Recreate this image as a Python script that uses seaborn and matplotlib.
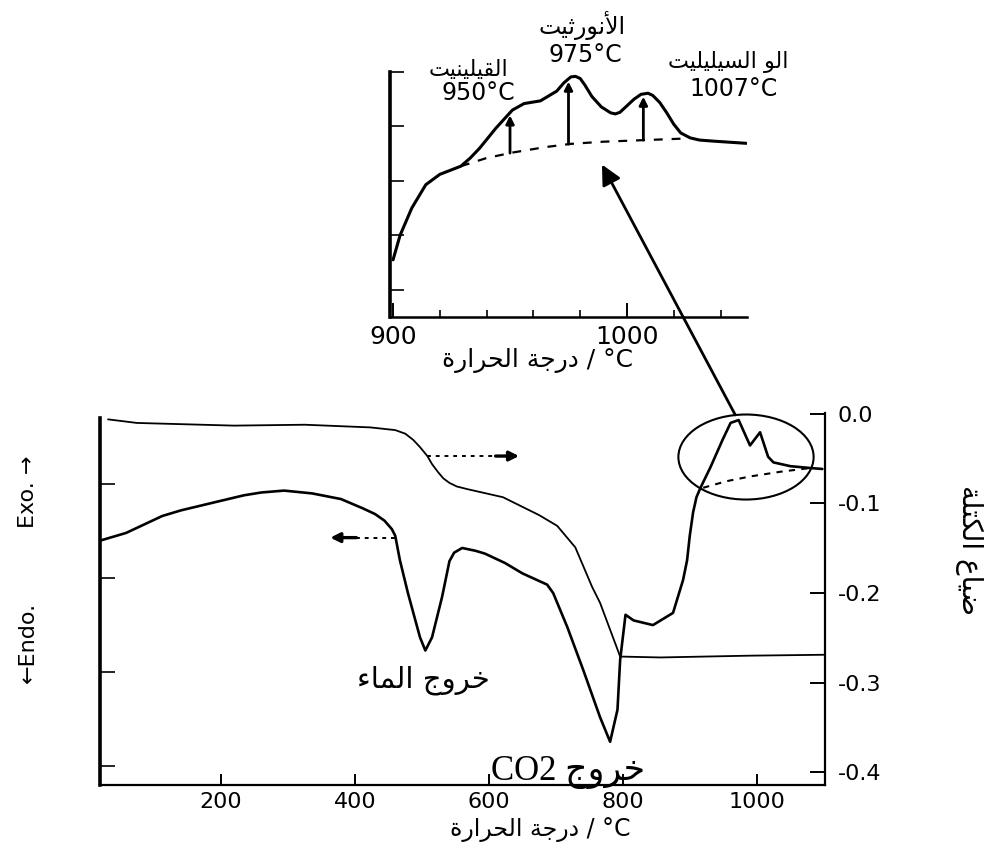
import matplotlib
matplotlib.use("Agg")
import numpy as np
import matplotlib.pyplot as plt
from matplotlib.patches import Ellipse, ConnectionPatch
import seaborn as sns

# ---------------- data ----------------
# DTA signal of the clay (left axis, arbitrary units)
dta_temp = [20, 58, 112, 140, 181, 234, 260, 294, 336, 379, 412, 430, 444, 455, 460, 467,
            479, 497, 505, 515, 530, 541, 548, 560, 580, 594, 624, 650, 687, 696, 717, 741,
            766, 781, 792, 796, 804, 816, 845, 875, 890, 896, 900, 905, 910, 916, 931, 949,
            961, 973, 990, 1005, 1017, 1025, 1050, 1080, 1098]
dta_signal = [2.40, 2.48, 2.66, 2.72, 2.79, 2.88, 2.91, 2.93, 2.90, 2.84, 2.74, 2.68, 2.61,
              2.52, 2.45, 2.19, 1.84, 1.37, 1.23, 1.37, 1.80, 2.18, 2.27, 2.32, 2.29, 2.26,
              2.16, 2.05, 1.93, 1.84, 1.48, 1.02, 0.52, 0.26, 0.60, 1.13, 1.61, 1.55, 1.50,
              1.63, 1.98, 2.19, 2.45, 2.70, 2.86, 2.96, 3.18, 3.47, 3.65, 3.68, 3.41, 3.55,
              3.29, 3.23, 3.19, 3.17, 3.16]

# TG mass change (right axis)
tg_temp = [31, 74, 219, 325, 423, 460, 475, 487, 497, 508, 515, 524, 532, 541, 552, 568,
           621, 675, 702, 729, 754, 766, 784, 796, 856, 990, 1100]
tg_mass = [-0.006, -0.010, -0.013, -0.012, -0.015, -0.018, -0.022, -0.029, -0.037, -0.047,
           -0.056, -0.065, -0.072, -0.077, -0.081, -0.084, -0.093, -0.113, -0.125, -0.149,
           -0.193, -0.211, -0.247, -0.271, -0.272, -0.270, -0.269]

# baseline under the high temperature exotherm (main plot)
main_base_temp = [920, 955, 990, 1035, 1080]
main_base_signal = [2.96, 3.03, 3.08, 3.13, 3.17]

# enlarged 900-1050 C region
inset_temp = [900, 903, 908, 914, 920, 929, 933, 937, 944, 951, 956, 963, 970, 973, 976,
              978, 980, 982, 985, 989, 993, 995, 997, 1003, 1006, 1009, 1011, 1014, 1017,
              1020, 1023, 1027, 1031, 1037, 1051]
inset_dta = [1.55, 2.00, 2.50, 2.93, 3.12, 3.27, 3.42, 3.60, 3.97, 4.30, 4.42, 4.47, 4.65,
             4.80, 4.91, 4.92, 4.88, 4.76, 4.55, 4.36, 4.25, 4.23, 4.26, 4.50, 4.59, 4.61,
             4.57, 4.44, 4.25, 4.04, 3.88, 3.79, 3.75, 3.73, 3.69]
inset_base_temp = [929, 940, 951, 965, 976, 990, 1008, 1026]
inset_base_dta = [3.27, 3.42, 3.52, 3.62, 3.68, 3.72, 3.75, 3.78]

peak_temps = [950, 975, 1007]
peak_names = ["القيلينيت", "الأنورثيت", "الو السيليليت"]

main_xticks = [200, 400, 600, 800, 1000]
mass_ticks = [0.0, -0.1, -0.2, -0.3, -0.4]
mass_ticklabels = ["0.0", "-0.1", "-0.2", "-0.3", "-0.4"]
dta_ticks = [0, 1, 2, 3]
inset_xticks = [900, 1000]
inset_yticks = [1, 2, 3, 4, 5]

# arrows telling which curve belongs to which axis
dta_arrow_temp = [363, 402, 460]
dta_arrow_level = 2.43
tg_arrow_temp = [508, 610, 645]
tg_arrow_level = -0.047


# ---------------- Arabic shaping helpers ----------------
_FORMS = {
    'ء': (0xFE80, 1), 'آ': (0xFE81, 2), 'أ': (0xFE83, 2), 'ؤ': (0xFE85, 2), 'إ': (0xFE87, 2),
    'ئ': (0xFE89, 4), 'ا': (0xFE8D, 2), 'ب': (0xFE8F, 4), 'ة': (0xFE93, 2), 'ت': (0xFE95, 4),
    'ث': (0xFE99, 4), 'ج': (0xFE9D, 4), 'ح': (0xFEA1, 4), 'خ': (0xFEA5, 4), 'د': (0xFEA9, 2),
    'ذ': (0xFEAB, 2), 'ر': (0xFEAD, 2), 'ز': (0xFEAF, 2), 'س': (0xFEB1, 4), 'ش': (0xFEB5, 4),
    'ص': (0xFEB9, 4), 'ض': (0xFEBD, 4), 'ط': (0xFEC1, 4), 'ظ': (0xFEC5, 4), 'ع': (0xFEC9, 4),
    'غ': (0xFECD, 4), 'ف': (0xFED1, 4), 'ق': (0xFED5, 4), 'ك': (0xFED9, 4), 'ل': (0xFEDD, 4),
    'م': (0xFEE1, 4), 'ن': (0xFEE5, 4), 'ه': (0xFEE9, 4), 'و': (0xFEED, 2), 'ى': (0xFEEF, 2),
    'ي': (0xFEF1, 4),
}
_LAM_ALEF = {'ا': 0xFEFB, 'أ': 0xFEF7, 'إ': 0xFEF9, 'آ': 0xFEF5}


def shape_arabic(text):
    toks = []
    i = 0
    while i < len(text):
        c = text[i]
        if c == 'ل' and i + 1 < len(text) and text[i + 1] in _LAM_ALEF:
            toks.append((_LAM_ALEF[text[i + 1]], 2))
            i += 2
            continue
        toks.append(_FORMS.get(c, (c, 0)))
        i += 1
    out = []
    for k, (base, n) in enumerate(toks):
        if n == 0:
            out.append(base)
            continue
        if n == 1:
            out.append(chr(base))
            continue
        prev = toks[k - 1] if k > 0 else None
        nxt = toks[k + 1] if k + 1 < len(toks) else None
        join_prev = prev is not None and prev[1] == 4
        join_next = n == 4 and nxt is not None and nxt[1] >= 2
        if join_prev and join_next:
            f = 3
        elif join_prev:
            f = 1
        elif join_next:
            f = 2
        else:
            f = 0
        out.append(chr(base + f))
    return ''.join(out)


def rtl(text):
    return shape_arabic(text)[::-1]


# ---------------- figure ----------------
sns.set_theme(style="ticks")
plt.rcParams['font.family'] = ['DejaVu Sans']
plt.rcParams['axes.unicode_minus'] = False
plt.rcParams['lines.solid_joinstyle'] = 'round'

W, H = 1005, 850
fig = plt.figure(figsize=(W / 100, H / 100), dpi=100)
fig.patch.set_facecolor("white")


def fx(px):
    return px / W


def fy(py):
    return 1 - py / H


ink = "black"

# ---- main axes ----
ax = fig.add_axes([fx(100), fy(785), fx(825) - fx(100), fy(413) - fy(785)])
ax2 = ax.twinx()
for a in (ax, ax2):
    a.set_facecolor("none")

sns.lineplot(x=dta_temp, y=dta_signal, ax=ax, sort=False, estimator=None,
             color=ink, linewidth=1.9)
sns.lineplot(x=main_base_temp, y=main_base_signal, ax=ax, sort=False, estimator=None,
             color=ink, linewidth=1.5, linestyle=(0, (3, 3)))
sns.lineplot(x=tg_temp, y=tg_mass, ax=ax2, sort=False, estimator=None,
             color=ink, linewidth=1.3)

ax.set_xlim(19, 1102)
ax.set_ylim(-0.2, 3.755)
ax2.set_ylim(-0.4145, 0.0011)

ax.set_xticks(main_xticks)
ax.set_xticklabels([str(t) for t in main_xticks])
ax.set_yticks(dta_ticks)
ax.tick_params(axis='x', direction='in', length=8, width=1.4, labelsize=16, pad=5,
               colors=ink)
ax.tick_params(axis='y', direction='in', length=11, width=1.4, labelleft=False)
ax2.set_yticks(mass_ticks)
ax2.set_yticklabels(mass_ticklabels)
ax2.tick_params(axis='y', direction='in', length=11, width=1.4, labelsize=16, pad=9,
                colors=ink)

for s in ("top", "right"):
    ax.spines[s].set_visible(False)
for s in ("top", "left", "bottom"):
    ax2.spines[s].set_visible(False)
ax.spines['left'].set_linewidth(2.6)
ax.spines['left'].set_bounds(-0.2, 3.70)
ax.spines['bottom'].set_linewidth(1.6)
ax2.spines['right'].set_linewidth(1.6)
for sp in list(ax.spines.values()) + list(ax2.spines.values()):
    sp.set_color(ink)
ax.set_xlabel("")
ax.set_ylabel("")
ax2.set_ylabel("")

# curve-to-axis arrows
ax.plot(dta_arrow_temp[1:], [dta_arrow_level] * 2, color=ink, lw=1.4, ls=(0, (2, 2.5)))
ax.annotate("", xy=(dta_arrow_temp[0], dta_arrow_level),
            xytext=(dta_arrow_temp[1], dta_arrow_level),
            arrowprops=dict(arrowstyle="-|>", color=ink, lw=2.4, mutation_scale=14,
                            shrinkA=0, shrinkB=0))
ax2.plot(tg_arrow_temp[:2], [tg_arrow_level] * 2, color=ink, lw=1.4, ls=(0, (2, 2.5)))
ax2.annotate("", xy=(tg_arrow_temp[2], tg_arrow_level),
             xytext=(tg_arrow_temp[1], tg_arrow_level),
             arrowprops=dict(arrowstyle="-|>", color=ink, lw=2.4, mutation_scale=14,
                             shrinkA=0, shrinkB=0))

# circle around the exotherm region
zoom_center = (984, 3.287)
ell = Ellipse(zoom_center, width=202, height=0.904, fill=False, edgecolor=ink,
              linewidth=1.5, clip_on=False)
ax.add_patch(ell)

# peak labels in the main plot
fig.text(fx(423), fy(680), rtl("خروج الماء"), ha="center", va="center",
         fontsize=21, color=ink)
fig.text(fx(568), fy(772), "CO2 " + rtl("خروج"), ha="center", va="center",
         fontsize=25, color=ink, family=["Liberation Serif", "DejaVu Sans"])

# axis captions
fig.text(fx(540), fy(830), rtl("درجة الحرارة") + " / °C", ha="center", va="center",
         fontsize=17, color=ink)
fig.text(fx(969), fy(550), rtl("ضياع الكتلة"), ha="center", va="center",
         rotation=270, fontsize=20, color=ink)
fig.text(fx(28), fy(492), "Exo. \u2192", ha="center", va="center", rotation=90,
         fontsize=16, color=ink)
fig.text(fx(28), fy(642), "\u2190Endo.", ha="center", va="center", rotation=90,
         fontsize=16, color=ink)

# ---- enlarged view ----
ins = fig.add_axes([fx(390), fy(317), fx(747) - fx(390), fy(72) - fy(317)])
ins.set_facecolor("none")
sns.lineplot(x=inset_temp, y=inset_dta, ax=ins, sort=False, estimator=None,
             color=ink, linewidth=2.2)
sns.lineplot(x=inset_base_temp, y=inset_base_dta, ax=ins, sort=False, estimator=None,
             color=ink, linewidth=1.6, linestyle=(0, (4, 4)))
ins.set_xlim(898.7, 1051.3)
ins.set_ylim(0.5, 5.0)
ins.set_xticks(inset_xticks)
ins.set_xticklabels([str(t) for t in inset_xticks])
ins.set_xticks(np.arange(920, 1050, 20), minor=True)
ins.set_yticks(inset_yticks)
ins.tick_params(axis='x', which='major', direction='in', length=10, width=1.4,
                labelsize=18, pad=6, colors=ink)
ins.tick_params(axis='x', which='minor', direction='in', length=5, width=1.4)
ins.tick_params(axis='y', direction='in', length=10, width=1.4, labelleft=False)
for s in ("top", "right"):
    ins.spines[s].set_visible(False)
ins.spines['left'].set_linewidth(2.6)
ins.spines['bottom'].set_linewidth(1.8)
ins.spines['left'].set_color(ink)
ins.spines['bottom'].set_color(ink)
ins.set_xlabel("")
ins.set_ylabel("")

# peak arrows from the baseline up to the curve
for t in peak_temps:
    top = np.interp(t, inset_temp, inset_dta)
    base = np.interp(t, inset_base_temp, inset_base_dta)
    ins.annotate("", xy=(t, top - 0.05), xytext=(t, base),
                 arrowprops=dict(arrowstyle="-|>", color=ink, lw=2.0,
                                 mutation_scale=12, shrinkA=0, shrinkB=0))

fig.text(fx(537), fy(360), rtl("درجة الحرارة") + " / °C", ha="center", va="center",
         fontsize=18, color=ink)

# peak names and temperatures
fig.text(fx(468), fy(70), rtl(peak_names[0]), ha="center", va="center", fontsize=16,
         color=ink)
fig.text(fx(478), fy(93), f"{peak_temps[0]}°C", ha="center", va="center", fontsize=17,
         color=ink)
fig.text(fx(582), fy(26), rtl(peak_names[1]), ha="center", va="center", fontsize=17,
         color=ink)
fig.text(fx(585), fy(55), f"{peak_temps[1]}°C", ha="center", va="center", fontsize=17,
         color=ink)
fig.text(fx(728), fy(62), rtl(peak_names[2]), ha="center", va="center", fontsize=16,
         color=ink)
fig.text(fx(734), fy(89), f"{peak_temps[2]}°C", ha="center", va="center", fontsize=17,
         color=ink)

# arrow from the circled region to the enlarged view
con = ConnectionPatch(xyA=(968, 3.734), coordsA=ax.transData,
                      xyB=(989.3, 3.30), coordsB=ins.transData,
                      arrowstyle="-|>", color=ink, lw=2.0, mutation_scale=30,
                      shrinkA=0, shrinkB=0)
fig.add_artist(con)

fig.savefig("out.png", dpi=100, facecolor="white")
